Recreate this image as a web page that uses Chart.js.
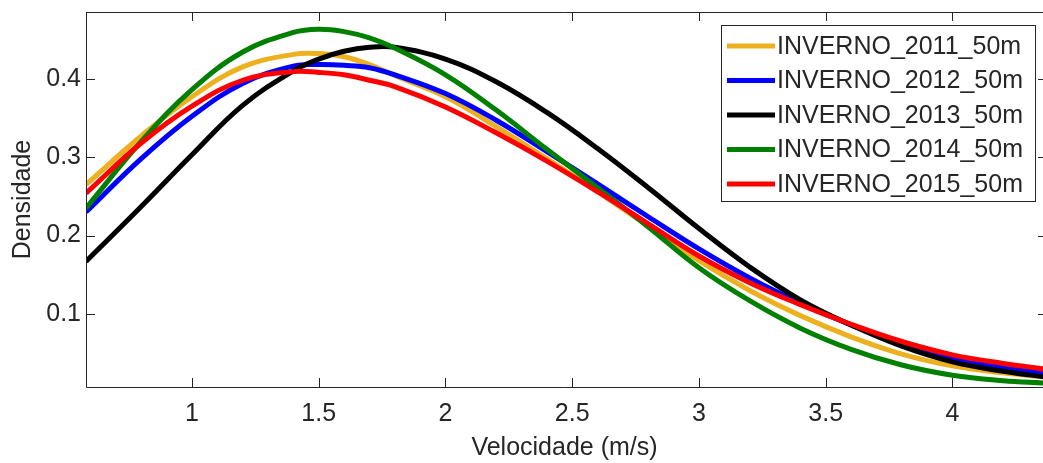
<!DOCTYPE html>
<html>
<head>
<meta charset="utf-8">
<script src="https://cdn.jsdelivr.net/npm/chart.js@4.4.1/dist/chart.umd.min.js"></script>
<style>
  html, body { margin: 0; padding: 0; background: #fff; }
</style>
</head>
<body>
<canvas id="myChart" width="1043" height="463"></canvas>
<script>
// velocidade (m/s) where the curves were read
const velocidade = [0.582, 0.8, 1.0, 1.2, 1.4, 1.5, 1.6, 1.7, 1.8, 2.0, 2.2, 2.4, 2.6, 2.8, 3.0, 3.2, 3.4, 3.6, 3.8, 4.0, 4.2, 4.36];

const inverno2011 = [0.265, 0.327, 0.377, 0.415, 0.431, 0.432, 0.428, 0.418, 0.404, 0.377, 0.339, 0.298, 0.256, 0.212, 0.168, 0.130, 0.098, 0.071, 0.049, 0.034, 0.025, 0.020];
const inverno2012 = [0.230, 0.298, 0.352, 0.394, 0.416, 0.418, 0.417, 0.414, 0.405, 0.381, 0.347, 0.307, 0.266, 0.224, 0.183, 0.146, 0.114, 0.086, 0.062, 0.044, 0.032, 0.025];
const inverno2013 = [0.167, 0.237, 0.303, 0.366, 0.410, 0.425, 0.435, 0.440, 0.440, 0.425, 0.396, 0.357, 0.311, 0.261, 0.209, 0.160, 0.118, 0.086, 0.059, 0.039, 0.027, 0.020];
const inverno2014 = [0.235, 0.320, 0.386, 0.434, 0.459, 0.463, 0.460, 0.452, 0.439, 0.405, 0.360, 0.310, 0.261, 0.211, 0.159, 0.117, 0.082, 0.055, 0.035, 0.022, 0.015, 0.012];
const inverno2015 = [0.254, 0.318, 0.365, 0.398, 0.409, 0.408, 0.405, 0.398, 0.390, 0.364, 0.331, 0.295, 0.256, 0.215, 0.174, 0.140, 0.112, 0.087, 0.065, 0.048, 0.037, 0.030];

const seriesNames = ['INVERNO_2011_50m', 'INVERNO_2012_50m', 'INVERNO_2013_50m', 'INVERNO_2014_50m', 'INVERNO_2015_50m'];
const seriesColors = ['#EDB120', '#0000FF', '#000000', '#008000', '#FF0000'];
const seriesValues = [inverno2011, inverno2012, inverno2013, inverno2014, inverno2015];

const xTicks = [1, 1.5, 2, 2.5, 3, 3.5, 4];
const yTicks = [0.1, 0.2, 0.3, 0.4];

const axisColor = '#262626';
const fontFamily = '"Liberation Sans", Arial, sans-serif';

// box, inward ticks on every side, and the legend in the top right corner
const matlabAxes = {
  id: 'matlabAxes',
  afterDatasetsDraw(chart) {
    const c = chart.ctx;
    const a = chart.chartArea;
    const xs = chart.scales.x, ys = chart.scales.y;
    const tl = 9;
    c.save();
    c.strokeStyle = axisColor;
    c.lineWidth = 1;
    c.beginPath();
    c.moveTo(a.left + 0.5, a.top + 0.5);
    c.lineTo(a.right, a.top + 0.5);
    c.moveTo(a.left + 0.5, a.top);
    c.lineTo(a.left + 0.5, a.bottom + 0.5);
    c.lineTo(a.right, a.bottom + 0.5);
    xTicks.forEach(v => {
      const px = Math.round(xs.getPixelForValue(v)) + 0.5;
      c.moveTo(px, a.bottom); c.lineTo(px, a.bottom - tl);
      c.moveTo(px, a.top); c.lineTo(px, a.top + tl);
    });
    yTicks.forEach(v => {
      const py = Math.round(ys.getPixelForValue(v)) + 0.5;
      c.moveTo(a.left, py); c.lineTo(a.left + tl, py);
      c.moveTo(a.right + 4, py); c.lineTo(a.right + 4 - tl, py);
    });
    c.stroke();

    // legend
    const bw = 314, bh = 176;
    const bx = a.right - 8 - bw, by = a.top + 13;
    c.fillStyle = '#fff';
    c.fillRect(bx, by, bw, bh);
    c.strokeStyle = axisColor;
    c.strokeRect(bx + 0.5, by + 0.5, bw, bh);
    c.font = '25px ' + fontFamily;
    c.textBaseline = 'middle';
    c.textAlign = 'left';
    chart.data.datasets.forEach((ds, i) => {
      const cy = by + 21 + i * 34.5;
      c.strokeStyle = ds.borderColor;
      c.lineWidth = 5;
      c.beginPath();
      c.moveTo(bx + 6, cy);
      c.lineTo(bx + 54, cy);
      c.stroke();
      c.fillStyle = axisColor;
      c.fillText(ds.label, bx + 56, cy + 1);
    });
    c.restore();
  }
};

new Chart(document.getElementById('myChart'), {
  type: 'line',
  data: {
    datasets: seriesNames.map((name, i) => ({
      label: name,
      data: velocidade.map((v, j) => ({ x: v, y: seriesValues[i][j] })),
      borderColor: seriesColors[i],
      backgroundColor: seriesColors[i],
      borderWidth: 5,
      pointRadius: 0,
      tension: 0.4,
      fill: false,
      clip: 0,
      order: seriesNames.length - i
    }))
  },
  options: {
    responsive: false,
    animation: false,
    layout: { padding: { top: 12, right: 0, left: 0, bottom: 0 } },
    plugins: {
      legend: { display: false },
      tooltip: { enabled: false }
    },
    scales: {
      x: {
        type: 'linear',
        min: 0.582,
        max: 4.357,
        afterBuildTicks: s => { s.ticks = xTicks.map(v => ({ value: v })); },
        afterFit: s => { s.height = 76; s.paddingLeft = 0; s.paddingRight = 0; },
        grid: { display: false, drawTicks: false },
        border: { display: false },
        ticks: {
          autoSkip: false,
          maxRotation: 0,
          padding: 12,
          color: axisColor,
          font: { family: fontFamily, size: 25 },
          callback: v => String(v)
        },
        title: {
          display: true,
          text: 'Velocidade (m/s)',
          color: axisColor,
          font: { family: fontFamily, size: 25 },
          padding: { top: 0, bottom: 0 }
        }
      },
      y: {
        min: 0.007,
        max: 0.485,
        afterBuildTicks: s => { s.ticks = yTicks.map(v => ({ value: v })); },
        afterFit: s => { s.width = 86; s.paddingTop = 0; s.paddingBottom = 0; },
        grid: { display: false, drawTicks: false },
        border: { display: false },
        ticks: {
          padding: 5,
          color: axisColor,
          font: { family: fontFamily, size: 25 },
          callback: v => String(v)
        },
        title: {
          display: true,
          text: 'Densidade',
          color: axisColor,
          font: { family: fontFamily, size: 25 },
          padding: { top: 8, bottom: 0 }
        }
      }
    }
  },
  plugins: [matlabAxes]
});
</script>
</body>
</html>
